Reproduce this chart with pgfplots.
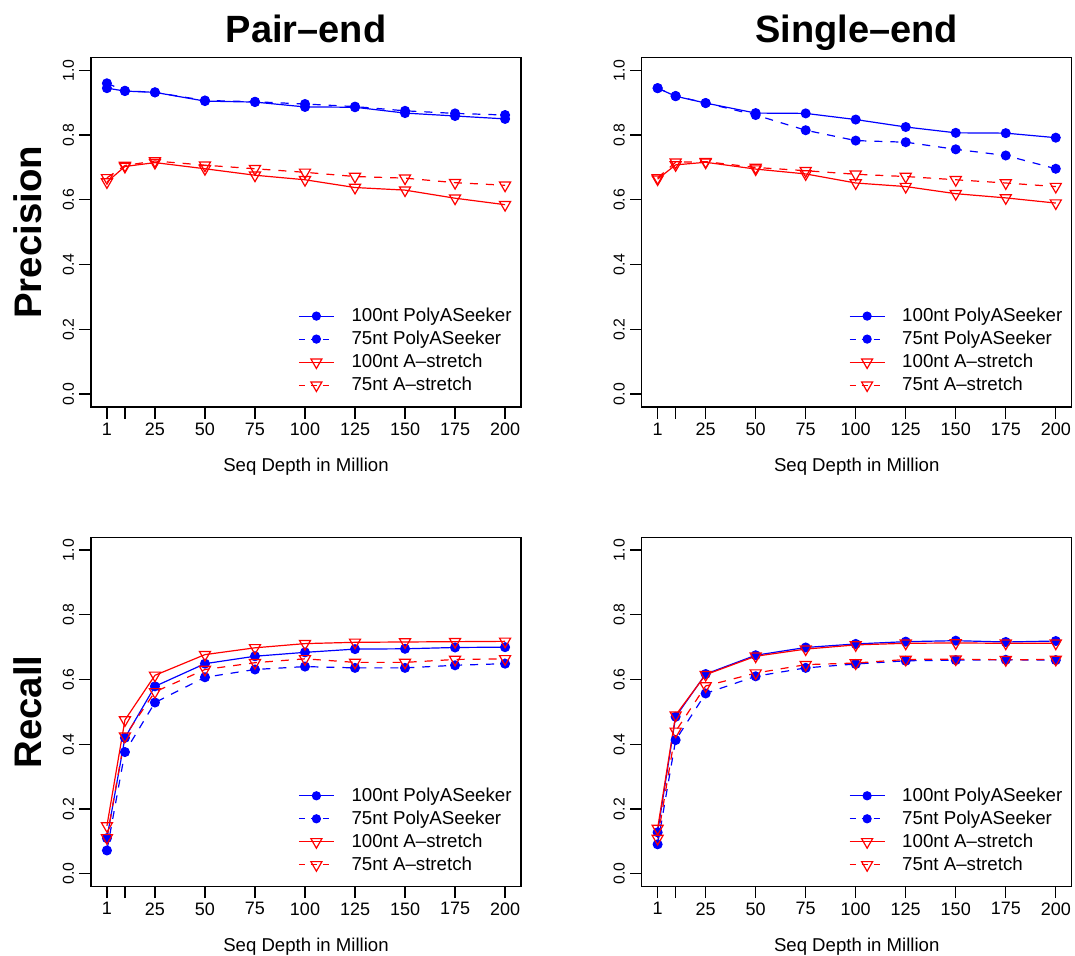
\documentclass[border=0pt]{standalone}
\usepackage{fontspec}
\setmainfont{Liberation Sans}
\usepackage{pgfplots}
\pgfplotsset{compat=1.18}
\definecolor{rblue}{HTML}{0000FF}
\definecolor{rred}{HTML}{FF0000}
% legend samples use slightly different shades so every colour is really emitted
\pgfplotsset{
  panel/.style={
    scale only axis, width=215pt, height=174.8pt,
    xmin=-6.96, xmax=207.96, ymin=-0.04, ymax=1.04,
    xtick={1,10,25,50,75,100,125,150,175,200},
    xticklabels={1,,25,50,75,100,125,150,175,200},
    ytick={0,0.2,0.4,0.6,0.8,1},
    yticklabels={0.0,0.2,0.4,0.6,0.8,1.0},
    tick align=outside, xtick pos=left, ytick pos=left,
    major tick length=5.75pt,
    axis line style={line width=0.6pt},
    every tick/.style={black, line width=0.6pt},
    xticklabel style={font=\fontsize{9}{10}\selectfont, inner sep=2pt},
    yticklabel style={font=\fontsize{7.9}{9}\selectfont, rotate=90, anchor=south, inner sep=2.5pt},
    every axis title/.style={at={(axis description cs:0.5,1)}, anchor=base, yshift=7.6pt,
      font=\bfseries\fontsize{19}{20}\selectfont},
    every axis x label/.style={at={(axis description cs:0.5,0)}, anchor=base, yshift=-32.2pt,
      font=\fontsize{9.3}{10}\selectfont},
    every axis y label/.style={at={(axis description cs:-0.146,0.5)}, rotate=90, anchor=center,
      font=\bfseries\fontsize{19.2}{20}\selectfont},
    xlabel={Seq Depth in Million},
    legend cell align=left,
    legend style={at={(1,0)}, anchor=south east, xshift=-3pt, yshift=5pt, draw=none, fill=none,
      inner sep=0pt, column sep=7pt, row sep=0pt,
      font=\fontsize{9.35}{10}\selectfont,
      nodes={inner xsep=1.5pt, inner ysep=1.5pt, text height=6.9pt, text depth=1.6pt}},
  },
  p100/.style={color=rblue, line width=0.6pt, mark=*, mark size=2.2pt, mark options={solid, fill=rblue, draw=rblue},
    legend image code/.code={
      \draw[draw=rblue!99.8, line width=0.6pt, solid] (0pt,0pt) -- (17.5pt,0pt);
      \fill[fill=rblue!99.7] (8.75pt,0pt) circle (2pt);}},
  p75/.style={color=rblue, line width=0.6pt, dash pattern=on 4pt off 4pt, mark=*, mark size=2.2pt, mark options={solid, fill=rblue, draw=rblue},
    legend image code/.code={
      \draw[draw=rblue!99.6, line width=0.6pt, dash pattern=on 3pt off 3pt] (0pt,0pt) -- (17.5pt,0pt);
      \fill[fill=rblue!99.5, solid] (8.75pt,0pt) circle (2pt);}},
  a100/.style={color=rred, line width=0.6pt, mark=triangle, mark size=3.2pt, mark options={solid, rotate=180, draw=rred},
    legend image code/.code={
      \draw[draw=rred!99.8, line width=0.6pt, solid] (0pt,0pt) -- (17.5pt,0pt);
      \draw[draw=rred!99.7, line width=0.6pt, solid] (8.75pt,-3.2pt) -- (11.52pt,1.6pt) -- (5.98pt,1.6pt) -- cycle;}},
  a75/.style={color=rred, line width=0.6pt, dash pattern=on 4pt off 4pt, mark=triangle, mark size=3.2pt, mark options={solid, rotate=180, draw=rred},
    legend image code/.code={
      \draw[draw=rred!99.6, line width=0.6pt, dash pattern=on 3pt off 3pt] (0pt,0pt) -- (17.5pt,0pt);
      \draw[draw=rred!99.5, line width=0.6pt, solid] (8.75pt,-3.2pt) -- (11.52pt,1.6pt) -- (5.98pt,1.6pt) -- cycle;}},
}
\begin{document}
\begin{tikzpicture}
\path[use as bounding box] (0,0) rectangle (537.5pt,477.5pt);

% Pair-end precision
\begin{axis}[panel, at={(45.5pt,274pt)}, anchor=south west, title={Pair\textendash end}, ylabel={Precision}]
\addplot[p100] coordinates {(1,0.945)(10,0.936)(25,0.932)(50,0.905)(75,0.902)(100,0.887)(125,0.886)(150,0.868)(175,0.859)(200,0.850)};
\addplot[p75] coordinates {(1,0.960)(10,0.937)(25,0.932)(50,0.907)(75,0.903)(100,0.896)(125,0.888)(150,0.875)(175,0.867)(200,0.862)};
\addplot[a100] coordinates {(1,0.655)(10,0.703)(25,0.715)(50,0.696)(75,0.676)(100,0.662)(125,0.638)(150,0.630)(175,0.605)(200,0.585)};
\addplot[a75] coordinates {(1,0.668)(10,0.706)(25,0.720)(50,0.707)(75,0.696)(100,0.685)(125,0.672)(150,0.667)(175,0.653)(200,0.645)};
\legend{100nt PolyASeeker, 75nt PolyASeeker, 100nt A\textendash stretch, 75nt A\textendash stretch}
\end{axis}

% Single-end precision
\begin{axis}[panel, at={(320.85pt,274pt)}, anchor=south west, title={Single\textendash end}]
\addplot[p100] coordinates {(1,0.945)(10,0.920)(25,0.899)(50,0.868)(75,0.867)(100,0.848)(125,0.825)(150,0.807)(175,0.806)(200,0.792)};
\addplot[p75] coordinates {(1,0.945)(10,0.921)(25,0.899)(50,0.862)(75,0.815)(100,0.783)(125,0.778)(150,0.756)(175,0.737)(200,0.696)};
\addplot[a100] coordinates {(1,0.664)(10,0.708)(25,0.716)(50,0.695)(75,0.680)(100,0.652)(125,0.641)(150,0.619)(175,0.606)(200,0.590)};
\addplot[a75] coordinates {(1,0.668)(10,0.716)(25,0.718)(50,0.700)(75,0.690)(100,0.679)(125,0.672)(150,0.662)(175,0.652)(200,0.641)};
\legend{100nt PolyASeeker, 75nt PolyASeeker, 100nt A\textendash stretch, 75nt A\textendash stretch}
\end{axis}

% Pair-end recall
\begin{axis}[panel, at={(45.5pt,34.15pt)}, anchor=south west, ylabel={Recall}]
\addplot[p100] coordinates {(1,0.110)(10,0.420)(25,0.579)(50,0.649)(75,0.672)(100,0.684)(125,0.694)(150,0.695)(175,0.699)(200,0.700)};
\addplot[p75] coordinates {(1,0.072)(10,0.376)(25,0.529)(50,0.607)(75,0.631)(100,0.640)(125,0.636)(150,0.636)(175,0.644)(200,0.649)};
\addplot[a100] coordinates {(1,0.148)(10,0.475)(25,0.613)(50,0.677)(75,0.698)(100,0.711)(125,0.715)(150,0.716)(175,0.717)(200,0.718)};
\addplot[a75] coordinates {(1,0.111)(10,0.425)(25,0.562)(50,0.631)(75,0.652)(100,0.664)(125,0.653)(150,0.653)(175,0.662)(200,0.664)};
\legend{100nt PolyASeeker, 75nt PolyASeeker, 100nt A\textendash stretch, 75nt A\textendash stretch}
\end{axis}

% Single-end recall
\begin{axis}[panel, at={(320.85pt,34.15pt)}, anchor=south west]
\addplot[p100] coordinates {(1,0.128)(10,0.485)(25,0.617)(50,0.675)(75,0.699)(100,0.710)(125,0.717)(150,0.720)(175,0.716)(200,0.719)};
\addplot[p75] coordinates {(1,0.091)(10,0.413)(25,0.557)(50,0.610)(75,0.636)(100,0.648)(125,0.658)(150,0.660)(175,0.661)(200,0.660)};
\addplot[a100] coordinates {(1,0.140)(10,0.490)(25,0.615)(50,0.672)(75,0.694)(100,0.707)(125,0.712)(150,0.713)(175,0.712)(200,0.712)};
\addplot[a75] coordinates {(1,0.109)(10,0.440)(25,0.580)(50,0.620)(75,0.646)(100,0.651)(125,0.662)(150,0.663)(175,0.661)(200,0.662)};
\legend{100nt PolyASeeker, 75nt PolyASeeker, 100nt A\textendash stretch, 75nt A\textendash stretch}
\end{axis}
\end{tikzpicture}
\end{document}
